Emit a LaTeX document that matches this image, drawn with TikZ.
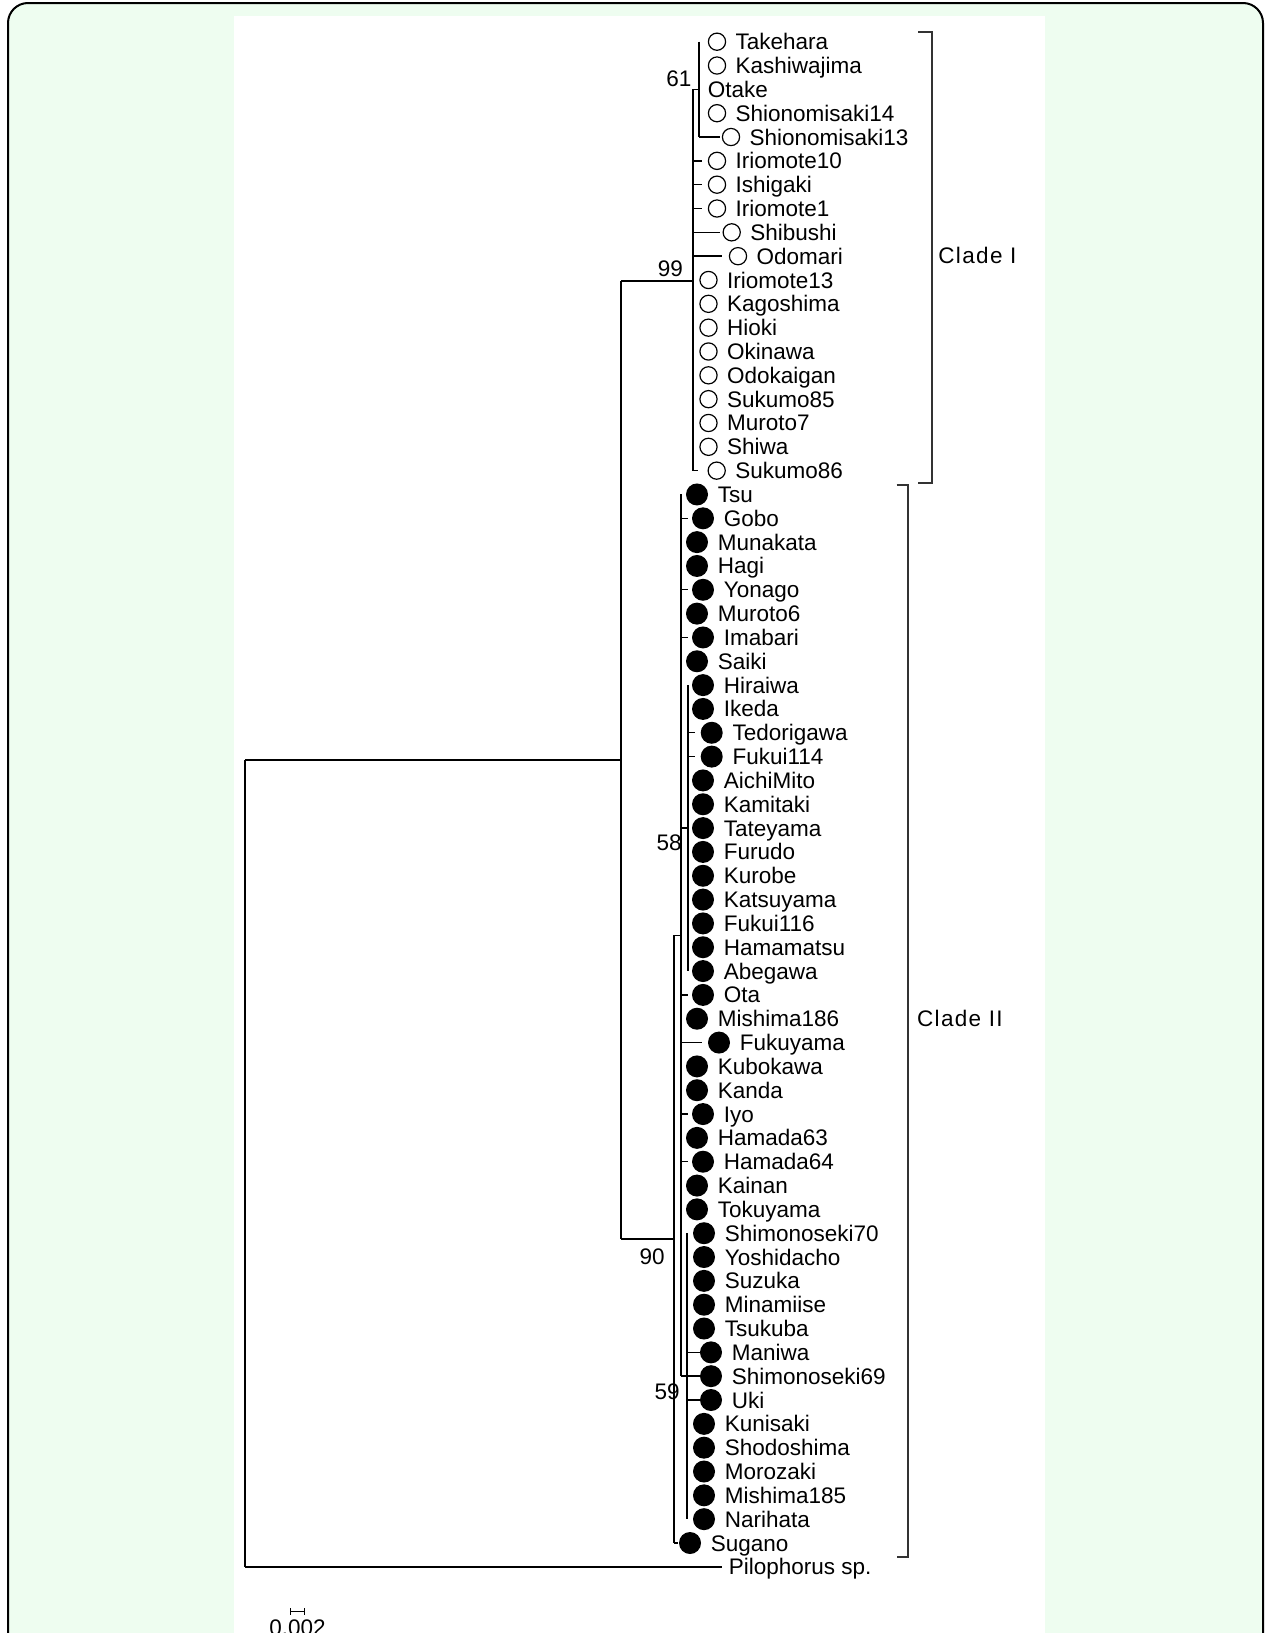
\documentclass[tikz,border=0pt]{standalone}
\usepackage{fontspec}
\setmainfont{Liberation Sans}
\newfontfamily\cladefont[LetterSpace=6]{Liberation Sans}
\usepackage{tikz}
\usetikzlibrary{positioning}
\usepackage{xcolor}
\definecolor{mintbg}{RGB}{238,253,240}
\newcommand{\taxfont}{\fontsize{11.25pt}{13pt}\selectfont}

\tikzset{
  openleaf/.style={circle, draw, line width=0.6pt, minimum size=8.6pt, inner sep=0pt},
  fullleaf/.style={circle, fill, minimum size=11pt, inner sep=0pt},
  noleaf/.style={inner sep=0pt, minimum size=0pt},
  taxon/.style={font=\taxfont, inner sep=0pt, text height=8pt, text depth=0pt},
  boot/.style={font=\taxfont, inner sep=0pt, anchor=east},
  branch/.style={line width=0.7pt},
  bracket/.style={line width=1pt, draw=black!80},
}

\begin{document}
\begin{tikzpicture}[x=0.5pt, y=-0.5pt]
        \useasboundingbox (0,0) rectangle (1265,1633);
        \clip (0,0) rectangle (1265,1633);
        % frame and panel
        \fill[white] (0,0) rectangle (1265,1633);
        \fill[mintbg] (8,1650) -- (8,23) arc[start angle=180, end angle=270, radius=20] -- (1243,3) arc[start angle=270, end angle=360, radius=20] -- (1263,1650) -- cycle;
        \draw[line width=1pt] (8,1650) -- (8,23) arc[start angle=180, end angle=270, radius=20] -- (1243,3) arc[start angle=270, end angle=360, radius=20] -- (1263,1650);
        \fill[white] (234,16) rectangle (1045,1650);
        % internal nodes
        \coordinate (n61)  at (699, 89.36);
        \coordinate (nI)   at (693, 281.0);
        \coordinate (n58)  at (688, 828.09);
        \coordinate (n59)  at (687, 1376.18);
        \coordinate (nB)   at (681, 935.33);
        \coordinate (nII)  at (674, 1239.16);
        \coordinate (nA)   at (621, 760.08);
        \coordinate (root) at (245, 1163.2);
        % leaves: index/parent/tip/marker x/marker/name
        \foreach \i/\up/\tip/\cx/\sty/\lab in {
            0/n61/699/717/openleaf/Takehara, 1/n61/699/717/openleaf/Kashiwajima,
            2/n61/699/698/noleaf/Otake, 3/n61/699/717/openleaf/Shionomisaki14,
            4/n61/720/731/openleaf/Shionomisaki13, 5/nI/701.7/717/openleaf/Iriomote10,
            6/nI/701.7/717/openleaf/Ishigaki, 7/nI/701.7/717/openleaf/Iriomote1,
            8/nI/720/731.7/openleaf/Shibushi, 9/nI/721.7/738/openleaf/Odomari,
            10/nI/693/708.5/openleaf/Iriomote13, 11/nI/693/708.5/openleaf/Kagoshima,
            12/nI/693/708.5/openleaf/Hioki, 13/nI/693/708.5/openleaf/Okinawa,
            14/nI/693/708.5/openleaf/Odokaigan, 15/nI/693/708.5/openleaf/Sukumo85,
            16/nI/693/708.5/openleaf/Muroto7, 17/nI/693/708.5/openleaf/Shiwa,
            18/nI/698/716.7/openleaf/Sukumo86,
            19/nB/681/697/fullleaf/Tsu, 20/nB/688/703/fullleaf/Gobo,
            21/nB/681/697/fullleaf/Munakata, 22/nB/681/697/fullleaf/Hagi,
            23/nB/688/703/fullleaf/Yonago, 24/nB/681/697/fullleaf/Muroto6,
            25/nB/688/703/fullleaf/Imabari, 26/nB/681/697/fullleaf/Saiki,
            27/n58/688/703/fullleaf/Hiraiwa, 28/n58/688/703/fullleaf/Ikeda,
            29/n58/695/711.7/fullleaf/Tedorigawa, 30/n58/695/711.7/fullleaf/Fukui114,
            31/n58/688/703/fullleaf/AichiMito, 32/n58/688/703/fullleaf/Kamitaki,
            33/n58/688/703/fullleaf/Tateyama, 34/n58/688/703/fullleaf/Furudo,
            35/n58/688/703/fullleaf/Kurobe, 36/n58/688/703/fullleaf/Katsuyama,
            37/n58/688/703/fullleaf/Fukui116, 38/n58/688/703/fullleaf/Hamamatsu,
            39/n58/688/703/fullleaf/Abegawa, 40/nB/688/703/fullleaf/Ota,
            41/nB/681/697/fullleaf/Mishima186, 42/nB/701.7/719/fullleaf/Fukuyama,
            43/nB/681/697/fullleaf/Kubokawa, 44/nB/681/697/fullleaf/Kanda,
            45/nB/688/703/fullleaf/Iyo, 46/nB/681/697/fullleaf/Hamada63,
            47/nB/688/703/fullleaf/Hamada64, 48/nB/681/697/fullleaf/Kainan,
            49/nB/681/697/fullleaf/Tokuyama,
            50/n59/687/704/fullleaf/Shimonoseki70, 51/n59/687/704/fullleaf/Yoshidacho,
            52/n59/687/704/fullleaf/Suzuka, 53/n59/687/704/fullleaf/Minamiise,
            54/n59/687/704/fullleaf/Tsukuba, 55/n59/700/711/fullleaf/Maniwa,
            56/n59/700/711/fullleaf/Shimonoseki69, 57/n59/700/711/fullleaf/Uki,
            58/n59/687/704/fullleaf/Kunisaki, 59/n59/687/704/fullleaf/Shodoshima,
            60/n59/687/704/fullleaf/Morozaki, 61/n59/687/704/fullleaf/Mishima185,
            62/n59/687/704/fullleaf/Narihata, 63/nII/678/690/fullleaf/Sugano,
            64/root/721.7/719/noleaf/Pilophorus sp.}{
          \pgfmathsetmacro\yy{41.7+\i*23.83}
          \coordinate (t\i) at (\tip,\yy);
          \node[\sty] (c\i) at (\cx,\yy) {};
          \node[taxon, right=4.5pt of c\i] (tx\i) {\lab};
          \draw[branch] (\up |- t\i) -- (t\i);
        }
        % vertical lines
        \draw[branch] (n61 |- t0) -- (n61 |- t4);
        \draw[branch] (nI |- n61) -- (nI |- t18);
        \draw[branch] (n58 |- t27) -- (n58 |- t39);
        \draw[branch] (n59 |- t50) -- (n59 |- t62);
        \draw[branch] (nB |- t19) -- (nB |- n59);
        \draw[branch] (nII |- nB) -- (nII |- t63);
        \draw[branch] (nA |- nI) -- (nA |- nII);
        \draw[branch] (root |- nA) -- (root |- t64);
        % internal branches
        \draw[branch] (nI |- n61) -- (n61);
        \draw[branch] (nA |- nI) -- (nI);
        \draw[branch] (nB |- n58) -- (n58);
        \draw[branch] (nB |- n59) -- (n59);
        \draw[branch] (nII |- nB) -- (nB);
        \draw[branch] (nA |- nII) -- (nII);
        \draw[branch] (root |- nA) -- (nA);
        % bootstrap values
        \node[boot] (b61) at (691.7,78.3) {61};
        \node[boot] (b99) at (683.3,268.3) {99};
        \node[boot] (b58) at (682,843) {58};
        \node[boot] (b90) at (665,1256.7) {90};
        \node[boot] (b59) at (680,1391.7) {59};
        % clades
        \draw[bracket] (918,31.7) -- (931.7,31.7) -- (931.7,483.3) -- (918,483.3);
        \draw[bracket] (896.7,485) -- (908.3,485) -- (908.3,1556.7) -- (896.7,1556.7);
        \node[taxon, anchor=west] (cladeI) at (938,255) {\cladefont\fontsize{11.25pt}{13pt}\selectfont Clade I};
        \node[taxon, anchor=west] (cladeII) at (916.7,1018.3) {\cladefont\fontsize{11.25pt}{13pt}\selectfont Clade II};
        % scale bar
        \draw[line width=0.6pt] (290.7,1608) -- (290.7,1615) (290.7,1611.7) -- (304.3,1611.7) (304.3,1608) -- (304.3,1615);
        \node[taxon, anchor=north] (scale) at (297.5,1619) {0.002};
      \end{tikzpicture}
\end{document}
